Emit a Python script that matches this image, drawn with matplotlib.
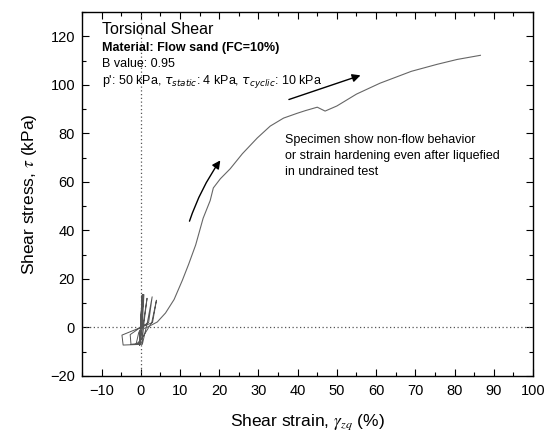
import numpy as np
import matplotlib
matplotlib.use('Agg')
import matplotlib.pyplot as plt

plt.rcParams['font.family'] = ['Liberation Sans', 'DejaVu Sans']
plt.rcParams['mathtext.fontset'] = 'stix'

# cyclic loading loops before liquefaction (strain %, stress kPa)
cyc_x = [0.0, 0.3, -0.2, 0.4, -0.3, 0.5, -0.3, 0.6, -0.4, 0.7, -0.3, 0.8,
         0.2, -1.2, -0.5, 0.5, 1.6, 0.9, 0.3, -2.5, -2.7, -0.5, 2.0, 2.9,
         1.8, 0.4, -4.5, -4.8, -1.0, 3.0, 4.0, 2.8, 0.5, 0.0]
cyc_y = [0.0, 13.0, -6.0, 13.5, -6.5, 13.0, -7.0, 13.5, -7.0, 13.0, -7.5, 13.5,
         -5.0, -7.0, -2.0, 0.0, 12.0, 3.0, -6.5, -7.0, -3.0, -0.5, 2.0, 12.6,
         3.0, -7.0, -7.3, -3.2, -0.7, 2.0, 11.2, 2.0, -4.0, -1.0]

# monotonic part after liquefaction
mono_x = [1.7, 4.2, 6.3, 8.5, 10.6, 12.2, 14.0, 15.9, 17.7, 18.5, 20.3, 22.8,
          25.9, 29.7, 33.0, 36.4, 39.9, 42.0, 45.0, 47.0, 50.0, 55.0, 61.0,
          69.0, 75.6, 80.7, 86.6]
mono_y = [0.1, 2.2, 5.9, 11.5, 19.4, 26.0, 34.0, 45.0, 52.3, 57.5, 61.3, 65.4,
          71.6, 78.1, 83.0, 86.3, 88.3, 89.4, 90.8, 89.2, 91.3, 96.2, 100.7,
          105.6, 108.5, 110.5, 112.2]

fig = plt.figure(figsize=(5.5, 4.34), dpi=100)
ax = fig.add_axes([0.149, 0.134, 0.82, 0.838])

ax.axhline(0, color='#555555', ls=(0, (1, 2)), lw=0.9)
ax.axvline(0, color='#555555', ls=(0, (1, 2)), lw=0.9)

ax.plot(cyc_x, cyc_y, color='#555555', lw=0.7)
ax.plot([cyc_x[-1]] + mono_x, [cyc_y[-1]] + mono_y, color='#666666', lw=0.8)

# arrows
ax.annotate('', xy=(20.7, 69.8), xytext=(12.2, 42.7),
            arrowprops=dict(arrowstyle='-|>', color='black', lw=1.0,
                            connectionstyle='arc3,rad=-0.08', mutation_scale=12))
ax.annotate('', xy=(56.7, 104.3), xytext=(37.1, 93.6),
            arrowprops=dict(arrowstyle='-|>', color='black', lw=1.0, mutation_scale=12))

ax.set_xlim(-15, 100)
ax.set_ylim(-20, 130)
ax.set_xticks(np.arange(-10, 101, 10))
ax.set_xticks(np.arange(-15, 101, 5), minor=True)
ax.set_yticks(np.arange(-20, 121, 20))
ax.set_yticks(np.arange(-20, 131, 10), minor=True)
ax.tick_params(which='both', direction='in', top=True, right=True, labelsize=10.5)
ax.tick_params(which='major', length=5, width=0.8)
ax.tick_params(which='minor', length=3, width=0.8)
ax.tick_params(axis='x', pad=6)
ax.tick_params(axis='y', pad=5)
for s in ax.spines.values():
    s.set_linewidth(1.0)

ax.set_xlabel(r'Shear strain, $\gamma_{zq}$ (%)', fontsize=12.5, labelpad=10)
ax.set_ylabel(r'Shear stress, $\tau$ (kPa)', fontsize=12.5, labelpad=8)

ax.text(-10.0, 122.7, 'Torsional Shear', fontsize=11.5, va='center')
ax.text(-10.0, 115.2, 'Material: Flow sand (FC=10%)', fontsize=9, fontweight='bold', va='center')
ax.text(-10.0, 108.8, 'B value: 0.95', fontsize=9, va='center')
ax.text(-10.0, 101.5, r"p': 50 kPa, $\tau_{static}$: 4 kPa, $\tau_{cyclic}$: 10 kPa",
        fontsize=9, va='center', math_fontfamily='dejavusans')
ax.text(36.9, 70.7, 'Specimen show non-flow behavior\nor strain hardening even after liquefied\nin undrained test',
        fontsize=9, va='center', linespacing=1.44)

fig.savefig('out.png', dpi=100)
